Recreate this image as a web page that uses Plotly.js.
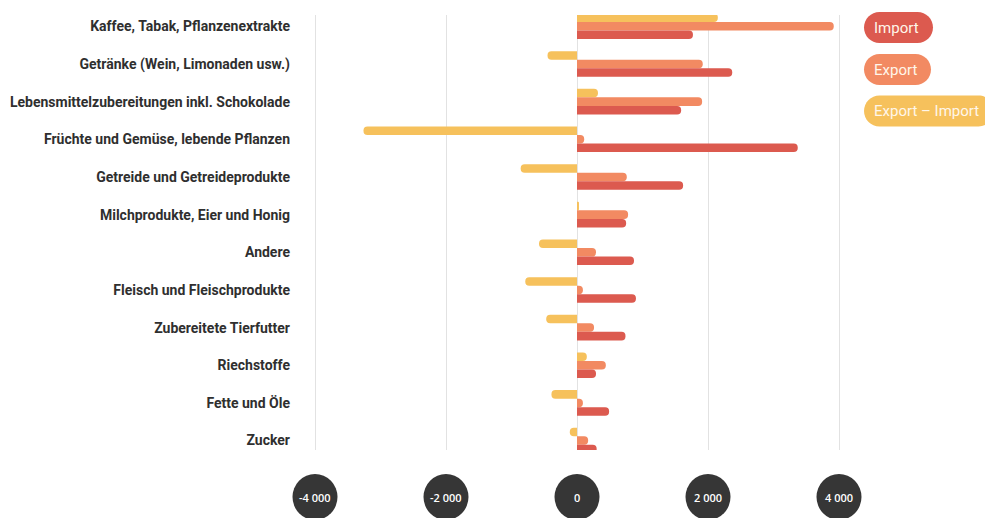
<!DOCTYPE html>
<html>
<head>
<meta charset="utf-8">
<script src="https://cdn.plot.ly/plotly-3.0.1.min.js"></script>
<style>
  html, body { margin: 0; padding: 0; background: #ffffff; }
  #chart { width: 985px; height: 518px; }
</style>
</head>
<body>
<div id="chart"></div>
<script>
// Agrarhandel nach Warengruppen (Import, Export, Saldo)
const categories = [
  'Kaffee, Tabak, Pflanzenextrakte',
  'Getränke (Wein, Limonaden usw.)',
  'Lebensmittelzubereitungen inkl. Schokolade',
  'Früchte und Gemüse, lebende Pflanzen',
  'Getreide und Getreideprodukte',
  'Milchprodukte, Eier und Honig',
  'Andere',
  'Fleisch und Fleischprodukte',
  'Zubereitete Tierfutter',
  'Riechstoffe',
  'Fette und Öle',
  'Zucker'
];
const importValues = [1770, 2370, 1590, 3370, 1620, 750, 870, 900, 740, 290, 490, 300];
const exportValues = [3920, 1920, 1910, 110, 760, 780, 290, 90, 260, 440, 90, 170];
const balanceValues = [2150, -450, 320, -3260, -860, 30, -580, -790, -470, 150, -390, -110];

const tickValues = [-4000, -2000, 0, 2000, 4000];
const tickLabels = ['-4 000', '-2 000', '0', '2 000', '4 000'];

const seriesNames = ['Import', 'Export', 'Export – Import'];
const seriesColors = ['#dc5a4f', '#f28a62', '#f6c15c'];

const W = 985, H = 518;
const M = { l: 300, r: 135, t: 15, b: 68 };
const plotW = W - M.l - M.r, plotH = H - M.t - M.b;
const paperX = px => (px - M.l) / plotW;
const paperY = py => (H - M.b - py) / plotH;

// x-Achse: 2000 Einheiten je 131 px, Null bei 577 px
const unitPerPx = 2000 / 131;
const xRange = [(M.l - 577) * unitPerPx, (W - M.r - 577) * unitPerPx];
const valueToPaper = v => (v - xRange[0]) / (xRange[1] - xRange[0]);

const labelFont = 'Roboto, "Liberation Sans", sans-serif';

// Saldo zuerst, damit er oben in jeder Gruppe liegt
const traceSpec = [
  { name: seriesNames[2], values: balanceValues, color: seriesColors[2] },
  { name: seriesNames[1], values: exportValues, color: seriesColors[1] },
  { name: seriesNames[0], values: importValues, color: seriesColors[0] }
];

const data = traceSpec.map(s => ({
  type: 'bar',
  orientation: 'h',
  name: s.name,
  x: s.values,
  y: categories,
  marker: { color: s.color, cornerradius: '50%' },
  hoverinfo: 'x+name'
}));

// Pillenförmige Legende
function pillPath(w, r) {
  const k = 0.5523 * r;
  return `M ${r},${-r} L ${w - r},${-r} C ${w - r + k},${-r} ${w},${-k} ${w},0 ` +
         `C ${w},${k} ${w - r + k},${r} ${w - r},${r} L ${r},${r} ` +
         `C ${r - k},${r} 0,${k} 0,0 C 0,${-k} ${r - k},${-r} ${r},${-r} Z`;
}
const legendRows = [
  { text: seriesNames[0], color: seriesColors[0], cy: 27.5, w: 69 },
  { text: seriesNames[1], color: seriesColors[1], cy: 69.5, w: 67 },
  { text: seriesNames[2], color: seriesColors[2], cy: 111, w: 130 }
];

const shapes = [];
const annotations = [];
legendRows.forEach(row => {
  shapes.push({
    type: 'path', xref: 'paper', yref: 'paper',
    xsizemode: 'pixel', ysizemode: 'pixel',
    xanchor: paperX(864), yanchor: paperY(row.cy),
    path: pillPath(row.w, 15.5),
    fillcolor: row.color, line: { width: 0 }, layer: 'above'
  });
  annotations.push({
    xref: 'paper', yref: 'paper', x: paperX(872), y: paperY(row.cy),
    xanchor: 'left', yanchor: 'middle', showarrow: false,
    text: row.text, font: { family: labelFont, size: 15, color: '#fff6ea' }
  });
});

// Achsenbeschriftung in dunklen Kreisen
tickValues.forEach((v, i) => {
  shapes.push({
    type: 'circle', xref: 'paper', yref: 'paper',
    xsizemode: 'pixel', ysizemode: 'pixel',
    xanchor: valueToPaper(v), yanchor: paperY(497),
    x0: -22.5, x1: 22.5, y0: -23, y1: 23,
    fillcolor: '#363636', line: { width: 0 }, layer: 'above'
  });
  annotations.push({
    xref: 'paper', yref: 'paper', x: valueToPaper(v), y: paperY(497),
    xanchor: 'center', yanchor: 'middle', showarrow: false,
    text: tickLabels[i], font: { family: '"Open Sans", sans-serif', size: 11, color: '#ffffff', weight: 600 }
  });
});

const layout = {
  width: W, height: H,
  margin: M,
  paper_bgcolor: '#ffffff', plot_bgcolor: '#ffffff',
  showlegend: false,
  barmode: 'group',
  bargap: 0.32,
  bargroupgap: 0,
  barcornerradius: '50%',
  xaxis: {
    range: xRange,
    tickvals: tickValues,
    showticklabels: false,
    showgrid: true, gridcolor: '#e2e2e2', gridwidth: 1,
    zeroline: true, zerolinecolor: '#e2e2e2', zerolinewidth: 1,
    showline: false, fixedrange: true
  },
  yaxis: {
    type: 'category',
    range: [11.25, -0.3],
    showgrid: false, zeroline: false, showline: false,
    ticks: '', ticklabelstandoff: 9,
    tickfont: { family: labelFont, size: 14, color: '#2f2f2f', weight: 'bold' },
    fixedrange: true
  },
  shapes: shapes,
  annotations: annotations
};

Plotly.newPlot('chart', data, layout, { displayModeBar: false, staticPlot: true });
</script>
</body>
</html>
